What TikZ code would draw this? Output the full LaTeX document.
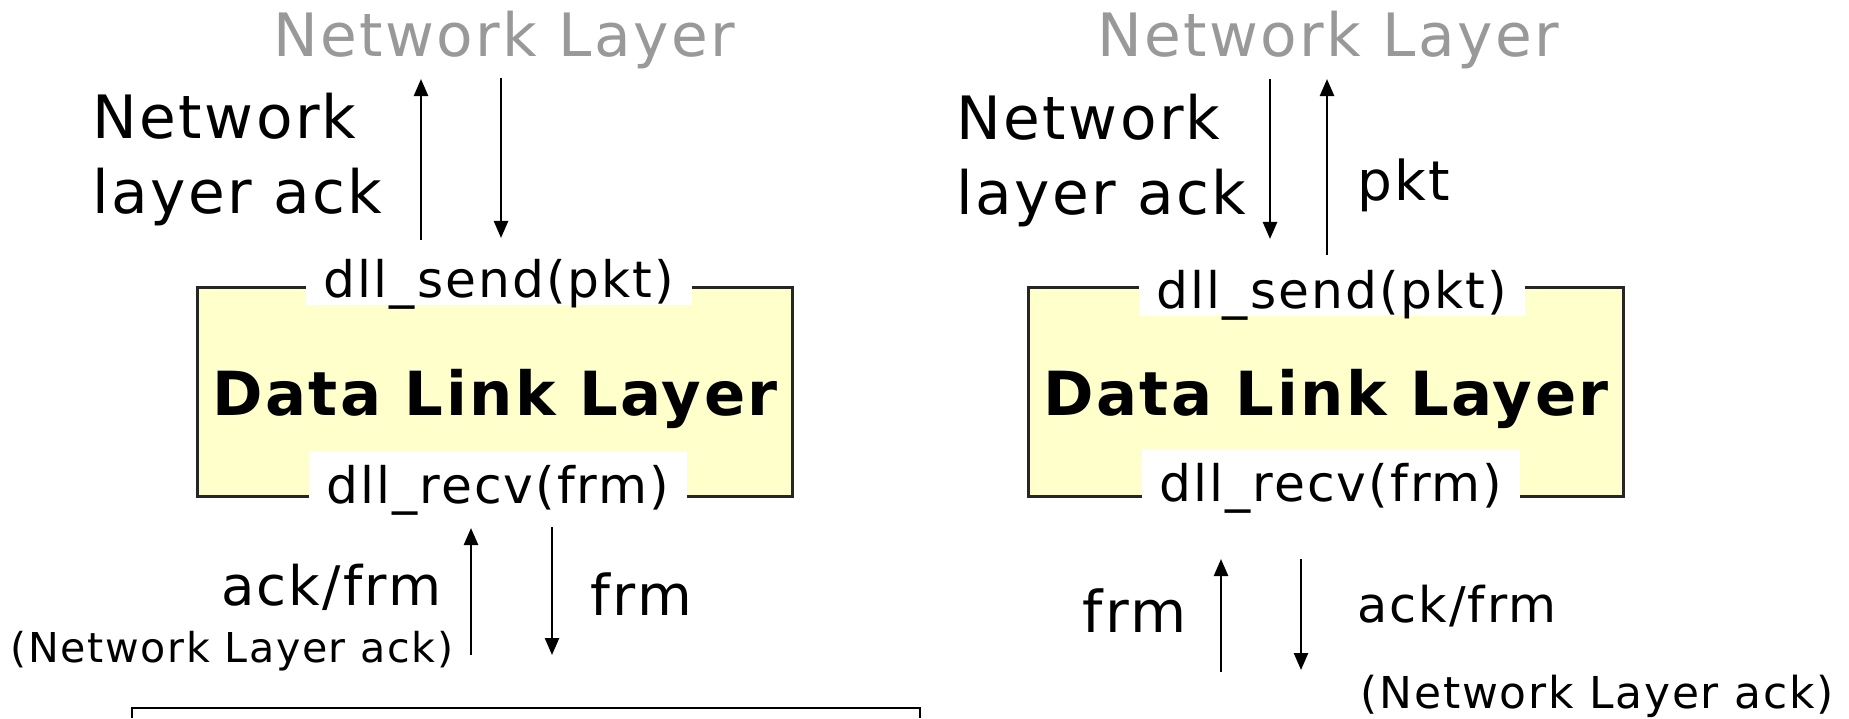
\documentclass[tikz,border=0pt]{standalone}
\usepackage{fontspec}
\setmainfont{DejaVu Sans}[LetterSpace=4]
\usetikzlibrary{arrows.meta,positioning}
\definecolor{dllyellow}{HTML}{FFFFCC}
\definecolor{netgray}{HTML}{999999}

\begin{document}
\begin{tikzpicture}[x=0.01cm, y=-0.01cm,
    lbl/.style={inner sep=0pt, font=\fontsize{17}{21.3}\selectfont},
    netlayer/.style={lbl, text=netgray},
    dllbox/.style={draw=black!85, line width=0.03cm, fill=dllyellow,
        minimum width=5.94cm, minimum height=2.08cm, text depth=0pt,
        font=\bfseries\fontsize{17.3}{20}\selectfont},
    call/.style={fill=white, inner xsep=0.18cm, inner ysep=0pt,
        text height=0.52cm, text depth=0.08cm, font=\fontsize{14.3}{17}\selectfont},
    flow/.style={line width=0.025cm, -{Triangle[length=0.17cm, width=0.14cm]}}]
    \useasboundingbox (0,0) rectangle (1849,718);

    \node[netlayer, anchor=base] (netL) at (504,57) {Network Layer};
    \node[lbl, align=left, anchor=north west] (nackL) at (92,92) {Network\\layer ack};
    \node[dllbox] (dllL) at (495,392) {Data Link Layer};
    \node[call, anchor=base] (sendL) at (499,297) {dll\_send(pkt)};
    \node[call, anchor=base] (recvL) at (498,503) {dll\_recv(frm)};
    \node[lbl, font=\fontsize{15.5}{18}\selectfont, anchor=base east] (afL) at (442,605) {ack/frm};
    \node[lbl, font=\fontsize{11.7}{14}\selectfont, anchor=base east] (nlaL) at (454,662) {(Network Layer ack)};
    \node[lbl, font=\fontsize{16}{19}\selectfont, anchor=base west] (frmL) at (590,615) {frm};

    \coordinate (upL1) at (421,240);  \coordinate (upL2) at (421,79);
    \coordinate (dnL1) at (501,78);   \coordinate (dnL2) at (501,238);
    \coordinate (upL3) at (471,655);  \coordinate (upL4) at (471,528);
    \coordinate (dnL3) at (552,527);  \coordinate (dnL4) at (552,655);
    \draw[flow] (upL1) -- (upL2);
    \draw[flow] (dnL1) -- (dnL2);
    \draw[flow] (upL3) -- (upL4);
    \draw[flow] (dnL3) -- (dnL4);
    \draw[line width=0.025cm] (132,718) -- (132,708) -- (920,708) -- (920,718);

    \node[netlayer, anchor=base] (netR) at (1328,57) {Network Layer};
    \node[lbl, align=left, anchor=north west] (nackR) at (956,93) {Network\\layer ack};
    \node[lbl, font=\fontsize{15.6}{19}\selectfont, anchor=base west] (pktR) at (1357,200) {pkt};
    \node[dllbox] (dllR) at (1326,392) {Data Link Layer};
    \node[call, anchor=base] (sendR) at (1332,308) {dll\_send(pkt)};
    \node[call, anchor=base] (recvR) at (1331,501) {dll\_recv(frm)};
    \node[lbl, font=\fontsize{16.4}{19}\selectfont, anchor=base west] (frmR) at (1082,632) {frm};
    \node[lbl, font=\fontsize{14}{17}\selectfont, anchor=base west] (afR) at (1357,622) {ack/frm};
    \node[lbl, font=\fontsize{12.5}{15}\selectfont, anchor=base west] (nlaR) at (1360,708) {(Network Layer ack)};

    \coordinate (dnR1) at (1270,79);  \coordinate (dnR2) at (1270,239);
    \coordinate (upR1) at (1327,255); \coordinate (upR2) at (1327,79);
    \coordinate (upR3) at (1221,672); \coordinate (upR4) at (1221,559);
    \coordinate (dnR3) at (1301,559); \coordinate (dnR4) at (1301,670);
    \draw[flow] (dnR1) -- (dnR2);
    \draw[flow] (upR1) -- (upR2);
    \draw[flow] (upR3) -- (upR4);
    \draw[flow] (dnR3) -- (dnR4);
\end{tikzpicture}
\end{document}
